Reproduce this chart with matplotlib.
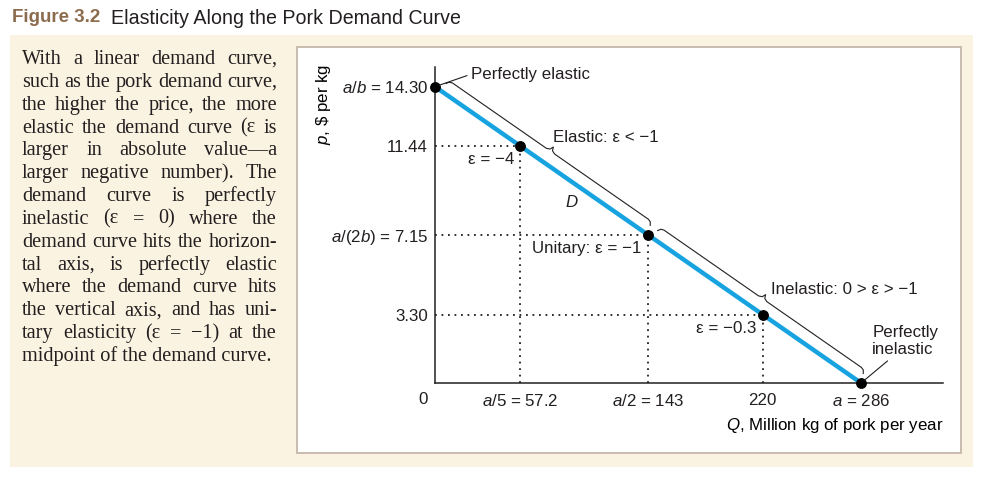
import numpy as np
import matplotlib
matplotlib.use('Agg')
import matplotlib.pyplot as plt
from matplotlib.patches import Rectangle

# pork demand: p = 14.30 - Q/20
Q_ends = [0, 286]
p_ends = [14.30, 0]
Q_pts = [0, 57.2, 143, 220, 286]
p_pts = [14.30, 11.44, 7.15, 3.30, 0]
eps_labels = ["ε = −4", "Unitary: ε = −1", "ε = −0.3"]
xtick_vals = [57.2, 143, 220, 286]
xtick_labels = ["$a$/5 = 57.2", "$a$/2 = 143", "220", "$a$ = 286"]
ytick_vals = [14.30, 11.44, 7.15, 3.30]
ytick_labels = ["$a$/$b$ = 14.30", "11.44", "$a$/(2$b$) = 7.15", "3.30"]
elastic_span = [4, 141]
inelastic_span = [146, 284]

caption = [
    "With a linear demand curve,",
    "such as the pork demand curve,",
    "the higher the price, the more",
    "elastic the demand curve (ε is",
    "larger in absolute value—a",
    "larger negative number). The",
    "demand curve is perfectly",
    "inelastic (ε = 0) where the",
    "demand curve hits the horizon-",
    "tal axis, is perfectly elastic",
    "where the demand curve hits",
    "the vertical axis, and has uni-",
    "tary elasticity (ε = −1) at the",
    "midpoint of the demand curve.",
]

ink = "#231F20"
blue = "#17A3DF"
cream = "#FBF3E1"
fs = 12.2

plt.rcParams['font.family'] = ['Liberation Sans', 'DejaVu Sans']
plt.rcParams['mathtext.fontset'] = 'custom'
plt.rcParams['mathtext.rm'] = 'Liberation Sans'
plt.rcParams['mathtext.it'] = 'Liberation Sans:italic'
plt.rcParams['text.color'] = ink

W, H = 992, 483
fig = plt.figure(figsize=(W / 100, H / 100), dpi=100)
fig.patch.set_facecolor('white')


def fx(x):
    return x / W


def fy(y):
    return 1 - y / H


# background panels
fig.patches.append(Rectangle((fx(10), fy(467)), fx(963), 432 / H,
                             transform=fig.transFigure, facecolor=cream,
                             edgecolor='none', zorder=-10))
fig.patches.append(Rectangle((fx(297), fy(453)), fx(664), 406 / H,
                             transform=fig.transFigure, facecolor='white',
                             edgecolor='#C5B8AA', lw=1.3, zorder=-9))

# title
fig.text(fx(12), fy(18), "Figure 3.2", color="#8C6C4E", fontsize=13.5,
         fontweight='bold', va='center')
fig.text(fx(111), fy(18), "Elasticity Along the Pork Demand Curve",
         color=ink, fontsize=14.1, va='center')

# justified caption on the left
renderer = fig.canvas.get_renderer()
ckw = dict(family=['Liberation Serif', 'DejaVu Serif'], fontsize=14.6,
           color=ink, va='baseline')


def width(s):
    t = fig.text(0, 0, s, **ckw)
    w = t.get_window_extent(renderer).width
    t.remove()
    return w


left, right = 22, 277
for i, line in enumerate(caption):
    y = 64 + i * 22.85
    if i == len(caption) - 1:
        fig.text(fx(left), fy(y), line, **ckw)
        continue
    words = line.split(" ")
    ws = [width(w_) for w_ in words]
    gap = (right - left - sum(ws)) / (len(words) - 1)
    x = left
    for word, w_ in zip(words, ws):
        fig.text(fx(x), fy(y), word, **ckw)
        x += w_ + gap

# chart
ax = fig.add_axes([fx(435), fy(383), 508 / W, 316 / H])
ax.set_facecolor('none')
ax.set_xlim(0, 341)
ax.set_ylim(0, 15.25)
for s in ['top', 'right']:
    ax.spines[s].set_visible(False)
for s in ['left', 'bottom']:
    ax.spines[s].set_color(ink)
    ax.spines[s].set_linewidth(1.1)

ax.set_xticks(xtick_vals)
ax.set_xticklabels(xtick_labels)
ax.set_yticks(ytick_vals)
ax.set_yticklabels(ytick_labels)
ax.tick_params(axis='both', length=0, labelsize=fs, colors=ink)
ax.tick_params(axis='x', pad=7)
ax.tick_params(axis='y', pad=5)
ax.annotate("0", (0, 0), xytext=(-5, -12), textcoords='offset points',
            ha='right', va='center', fontsize=fs)

ax.set_xlabel("$Q$, Million kg of pork per year", fontsize=fs,
              ha='right', va='center')
ax.xaxis.set_label_coords(1.0, -0.133)
ax.set_ylabel(r"$p$, \$ per kg", fontsize=fs, va='center')
ax.yaxis.set_label_coords(-0.22, 0.88)

# dotted guides
for q, p in zip(Q_pts[1:4], p_pts[1:4]):
    ax.plot([0, q], [p, p], color=ink, lw=1.3, ls=(0, (1, 2.6)), zorder=1)
    ax.plot([q, q], [0, p], color=ink, lw=1.3, ls=(0, (1, 2.6)), zorder=1)

ax.plot(Q_ends, p_ends, color=blue, lw=3.2, zorder=2, solid_capstyle='butt')
ax.plot(Q_pts, p_pts, 'o', color='black', ms=6.8, zorder=3, clip_on=False)

for q, p, lab in zip(Q_pts[1:4], p_pts[1:4], eps_labels):
    ax.annotate(lab, (q, p), xytext=(-4.5, -10), textcoords='offset points',
                ha='right', va='center', fontsize=fs)

ax.text(92, 8.7, "D", fontsize=fs, style='italic', ha='center', va='center')


def p_at(q):
    return np.interp(q, Q_ends, p_ends)


def brace(q0, q1, d=13, h=5):
    a = ax.transData.transform((q0, p_at(q0)))
    b = ax.transData.transform((q1, p_at(q1)))
    L = np.hypot(*(b - a))
    u = (b - a) / L
    n = np.array([-u[1], u[0]])
    s = np.array([0, 2, 5, L / 2 - 5, L / 2 - 1.5, L / 2, L / 2 + 1.5,
                  L / 2 + 5, L - 5, L - 2, L])
    t = np.array([d - 4, d - 1, d, d, d + 1.5, d + h, d + 1.5, d, d, d - 1,
                  d - 4])
    pts = a + np.outer(s, u) + np.outer(t, n)
    data = ax.transData.inverted().transform(pts)
    ax.plot(data[:, 0], data[:, 1], color=ink, lw=0.8, clip_on=False)
    return data[5]


tip = brace(*elastic_span)
ax.annotate("Elastic: ε < −1", tip, xytext=(0, 1.5), textcoords='offset points',
            ha='left', va='bottom', fontsize=fs)
tip = brace(*inelastic_span)
ax.annotate("Inelastic: 0 > ε > −1", tip, xytext=(4, 4),
            textcoords='offset points', ha='left', va='center', fontsize=fs)

ax.annotate("Perfectly elastic", (Q_pts[0], p_pts[0]), xytext=(26, 9),
            textcoords='offset points', ha='left', va='center', fontsize=fs,
            arrowprops=dict(arrowstyle='-', color=ink, lw=0.8, shrinkA=1,
                            shrinkB=3, relpos=(0, 0.5)))
ax.annotate("Perfectly\ninelastic", (Q_pts[4], p_pts[4]), xytext=(8, 30),
            textcoords='offset points', ha='left', va='center', fontsize=fs,
            linespacing=1.15,
            arrowprops=dict(arrowstyle='-', color=ink, lw=0.8, shrinkA=1,
                            shrinkB=3, relpos=(0.3, 0)))

fig.savefig("out.png", dpi=100)
